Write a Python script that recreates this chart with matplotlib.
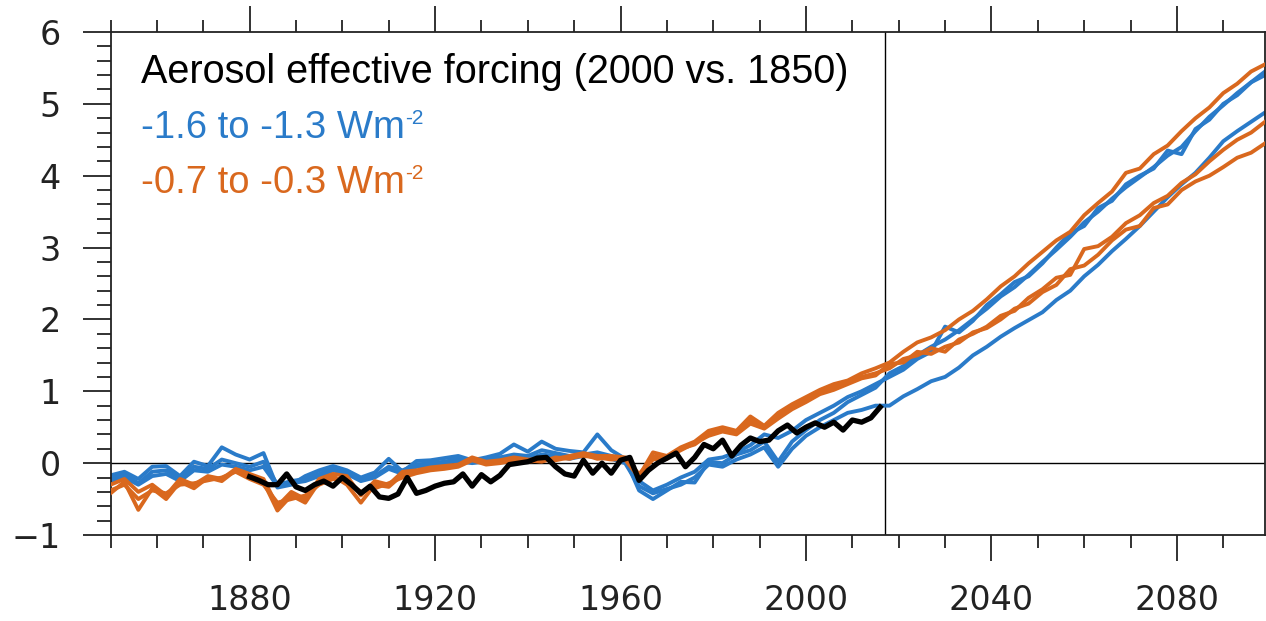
import numpy as np
import matplotlib
matplotlib.use("Agg")
import matplotlib.pyplot as plt
from matplotlib.ticker import MultipleLocator

# ---------------- data ----------------
years = list(range(1850, 2100, 3))  # 1850 ... 2099

blue1 = [-0.17, -0.12, -0.22, -0.05, -0.04, -0.18, 0.02, -0.04, 0.22, 0.12,
         0.05, 0.14, -0.34, -0.30, -0.18, -0.10, -0.04, -0.10, -0.20, -0.13,
         0.06, -0.12, 0.03, 0.04, 0.07, 0.10, 0.04, 0.08, 0.13, 0.26,
         0.16, 0.30, 0.20, 0.17, 0.15, 0.40, 0.18, 0.06, -0.38, -0.50,
         -0.38, -0.26, -0.27, 0.02, 0.00, 0.12, 0.18, 0.30, 0.02, 0.30,
         0.46, 0.60, 0.70, 0.85, 0.95, 1.05,
         1.25, 1.35, 1.50, 1.62, 1.72, 1.85, 2.00, 2.15, 2.32, 2.45,
         2.62, 2.80, 2.97, 3.15, 3.35, 3.50, 3.68, 3.84, 3.98, 4.12,
         4.28, 4.40, 4.62, 4.82, 4.98, 5.15, 5.30, 5.45]

blue2 = [-0.22, -0.15, -0.28, -0.12, -0.10, -0.20, -0.05, -0.08, 0.05, 0.00,
         -0.05, 0.02, -0.30, -0.25, -0.22, -0.15, -0.08, -0.12, -0.22, -0.18,
         -0.05, -0.10, -0.02, 0.00, 0.02, 0.06, 0.02, 0.05, 0.08, 0.12,
         0.10, 0.18, 0.14, 0.10, 0.12, 0.15, 0.10, 0.04, -0.25, -0.38,
         -0.30, -0.20, -0.12, 0.05, 0.08, 0.15, 0.25, 0.40, 0.35, 0.45,
         0.60, 0.70, 0.80, 0.92, 1.00, 1.10,
         1.20, 1.30, 1.45, 1.55, 1.90, 1.82, 1.98, 2.20, 2.35, 2.52,
         2.60, 2.78, 3.00, 3.20, 3.30, 3.55, 3.65, 3.88, 4.00, 4.10,
         4.35, 4.30, 4.65, 4.78, 5.00, 5.12, 5.30, 5.40]

blue3 = [-0.25, -0.20, -0.30, -0.18, -0.15, -0.25, -0.10, -0.12, -0.02, -0.05,
         -0.10, -0.05, -0.32, -0.28, -0.25, -0.18, -0.10, -0.15, -0.25, -0.20,
         -0.08, -0.15, -0.05, -0.03, 0.00, 0.03, 0.00, 0.03, 0.05, 0.10,
         0.06, 0.12, 0.10, 0.06, 0.10, 0.12, 0.06, 0.00, -0.32, -0.42,
         -0.36, -0.30, -0.20, -0.02, -0.05, 0.05, 0.12, 0.22, -0.05, 0.20,
         0.38, 0.50, 0.60, 0.70, 0.74, 0.80,
         0.80, 0.93, 1.03, 1.14, 1.20, 1.33, 1.50, 1.62, 1.76, 1.88,
         1.99, 2.10, 2.27, 2.40, 2.60, 2.76, 2.95, 3.12, 3.30, 3.50,
         3.70, 3.88, 4.04, 4.25, 4.48, 4.62, 4.75, 4.88]

orange1 = [-0.30, -0.22, -0.40, -0.30, -0.45, -0.22, -0.30, -0.18, -0.22, -0.08,
           -0.15, -0.22, -0.60, -0.40, -0.50, -0.22, -0.15, -0.18, -0.45, -0.25,
           -0.30, -0.12, -0.10, -0.06, -0.04, -0.02, 0.08, 0.02, 0.04, 0.08,
           0.05, 0.05, 0.06, 0.10, 0.14, 0.10, 0.10, 0.08, -0.18, 0.15,
           0.10, 0.22, 0.30, 0.45, 0.50, 0.45, 0.65, 0.52, 0.70, 0.82,
           0.92, 1.02, 1.10, 1.15, 1.25, 1.32,
           1.40, 1.55, 1.68, 1.75, 1.85, 2.00, 2.12, 2.28, 2.46, 2.60,
           2.78, 2.94, 3.10, 3.22, 3.45, 3.62, 3.78, 4.04, 4.10, 4.30,
           4.42, 4.62, 4.80, 4.95, 5.15, 5.28, 5.45, 5.55]

orange2 = [-0.42, -0.26, -0.65, -0.35, -0.50, -0.26, -0.35, -0.20, -0.25, -0.10,
           -0.20, -0.26, -0.66, -0.45, -0.55, -0.26, -0.18, -0.30, -0.55, -0.30,
           -0.33, -0.16, -0.12, -0.08, -0.06, -0.03, 0.06, 0.00, 0.02, 0.06,
           0.04, 0.02, 0.08, 0.06, 0.12, 0.06, 0.08, 0.05, -0.20, 0.10,
           0.06, 0.20, 0.26, 0.40, 0.48, 0.42, 0.60, 0.50, 0.65, 0.78,
           0.88, 1.00, 1.06, 1.12, 1.20, 1.25,
           1.32, 1.45, 1.50, 1.60, 1.55, 1.72, 1.80, 1.90, 2.05, 2.12,
           2.30, 2.42, 2.58, 2.62, 2.98, 3.02, 3.15, 3.34, 3.45, 3.62,
           3.72, 3.90, 4.02, 4.20, 4.36, 4.50, 4.60, 4.75]

orange3 = [-0.38, -0.30, -0.50, -0.38, -0.42, -0.30, -0.28, -0.24, -0.20, -0.12,
           -0.22, -0.30, -0.55, -0.50, -0.45, -0.30, -0.22, -0.25, -0.40, -0.35,
           -0.28, -0.20, -0.14, -0.10, -0.08, -0.05, 0.04, -0.02, 0.00, 0.04,
           0.02, 0.04, 0.04, 0.08, 0.10, 0.08, 0.05, 0.06, -0.15, 0.05,
           0.08, 0.18, 0.28, 0.38, 0.44, 0.40, 0.55, 0.48, 0.62, 0.75,
           0.85, 0.96, 1.02, 1.10, 1.18, 1.22,
           1.38, 1.40, 1.55, 1.52, 1.62, 1.68, 1.82, 1.88, 2.00, 2.15,
           2.22, 2.38, 2.48, 2.70, 2.75, 2.90, 3.10, 3.25, 3.30, 3.55,
           3.60, 3.80, 3.92, 4.00, 4.12, 4.25, 4.32, 4.45]

obs_years = list(range(1880, 2017, 2))  # 1880 ... 2016
obs = [-0.19, -0.24, -0.30, -0.30, -0.15, -0.33, -0.38, -0.30, -0.25, -0.32,
       -0.20, -0.30, -0.42, -0.32, -0.47, -0.49, -0.43, -0.20, -0.42, -0.38,
       -0.32, -0.28, -0.26, -0.15, -0.32, -0.16, -0.26, -0.17, -0.02, 0.00,
       0.02, 0.07, 0.08, -0.05, -0.15, -0.18, 0.04, -0.14, 0.00, -0.14,
       0.04, 0.08, -0.24, -0.10, 0.00, 0.07, 0.14, -0.05, 0.08, 0.26,
       0.20, 0.32, 0.10, 0.25, 0.35, 0.30, 0.32, 0.45, 0.53, 0.42,
       0.50, 0.56, 0.50, 0.57, 0.46, 0.60, 0.57, 0.63, 0.78]

title_text = "Aerosol effective forcing (2000 vs. 1850)"
blue_label = "-1.6 to -1.3 Wm"
orange_label = "-0.7 to -0.3 Wm"
unit_sup = "-2"
present_year = 2017

BLUE = "#2a7bc9"
ORANGE = "#d9681e"

# ---------------- figure ----------------
W, H = 1266, 621
fig = plt.figure(figsize=(W / 100, H / 100), dpi=100)
ax = fig.add_axes([110.5 / W, 86 / H, (1265 - 110.5) / W, 503 / H])

for s in (blue1, blue2, blue3):
    ax.plot(years, s, color=BLUE, lw=2.8, solid_joinstyle="round", zorder=2)
for s in (orange1, orange2, orange3):
    ax.plot(years, s, color=ORANGE, lw=2.8, solid_joinstyle="round", zorder=3)
ax.plot(obs_years, obs, color="black", lw=3.8, solid_joinstyle="round", zorder=4)

ax.axhline(0, color="black", lw=1.0, zorder=1)
ax.axvline(present_year, color="black", lw=1.0, zorder=1)

ax.set_xlim(1850, 2099)
ax.set_ylim(-1, 6)

ax.set_xticks([1880, 1920, 1960, 2000, 2040, 2080])
ax.xaxis.set_minor_locator(MultipleLocator(10))
ax.yaxis.set_major_locator(MultipleLocator(1))
ax.yaxis.set_minor_locator(MultipleLocator(0.2))

ax.tick_params(axis="x", which="both", direction="out", top=True, bottom=True,
               labeltop=False, labelsize=24, pad=16, width=1.3, color="#222222")
ax.tick_params(axis="x", which="major", length=19)
ax.tick_params(axis="x", which="minor", length=9)
ax.tick_params(axis="y", which="both", direction="out", left=True, right=False,
               labelsize=24, pad=16, width=1.3, color="#222222")
ax.tick_params(axis="y", which="major", length=20)
ax.tick_params(axis="y", which="minor", length=10)
for lab in ax.get_xticklabels() + ax.get_yticklabels():
    lab.set_color("#222222")

for sp in ax.spines.values():
    sp.set_linewidth(1.3)
    sp.set_color("#222222")

ax.text(0.026, 0.92, title_text, transform=ax.transAxes, fontsize=28.5,
        family="Liberation Sans", color="black", va="center", ha="left")
t_blue = ax.text(0.026, 0.809, blue_label, transform=ax.transAxes, fontsize=27.5,
                 family="Liberation Sans", color=BLUE, va="center", ha="left")
t_orange = ax.text(0.026, 0.70, orange_label, transform=ax.transAxes, fontsize=27.5,
                   family="Liberation Sans", color=ORANGE, va="center", ha="left")

fig.canvas.draw()
renderer = fig.canvas.get_renderer()
for t, c in ((t_blue, BLUE), (t_orange, ORANGE)):
    bb = t.get_window_extent(renderer)
    fig.text((bb.x1 + 1) / W, (bb.y1 + 1) / H, unit_sup, fontsize=15,
             family="Liberation Sans", color=c, va="top", ha="left")

fig.savefig("out.png", dpi=100)
